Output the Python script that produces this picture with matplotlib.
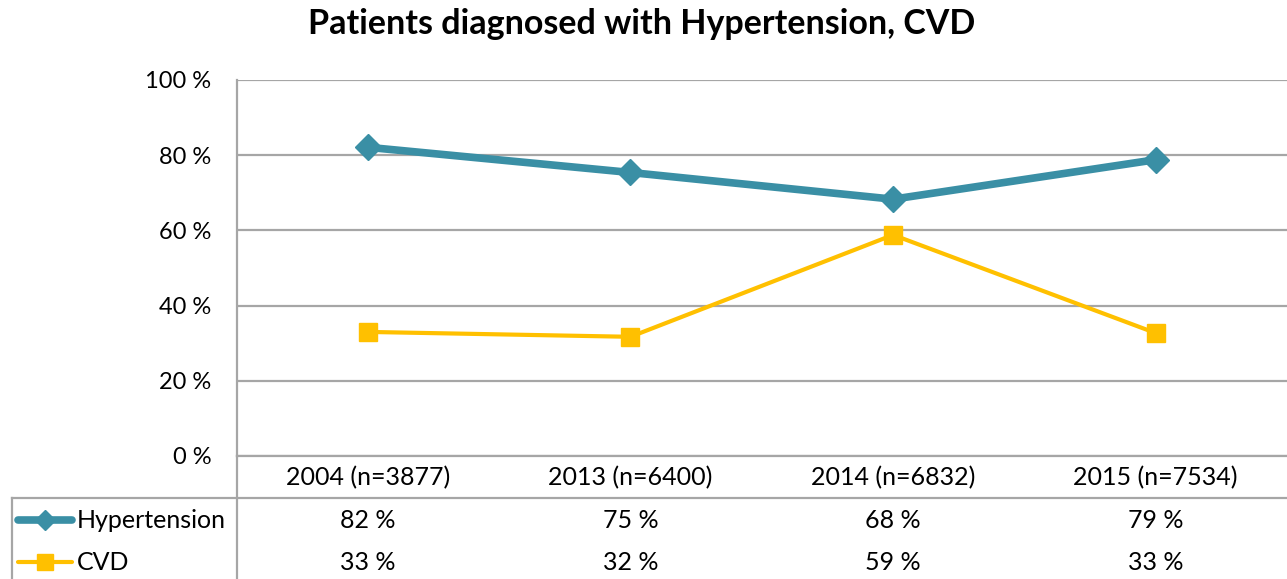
import matplotlib.pyplot as plt
from matplotlib.lines import Line2D
import matplotlib.transforms as mtransforms

plt.rcParams['font.family'] = ['Lato', 'DejaVu Sans']

categories = ['2004 (n=3877)', '2013 (n=6400)', '2014 (n=6832)', '2015 (n=7534)']
hypertension = [82.1, 75.4, 68.3, 78.8]
cvd = [33.0, 31.7, 58.8, 32.7]
hyp_labels = ['82 %', '75 %', '68 %', '79 %']
cvd_labels = ['33 %', '32 %', '59 %', '33 %']
yticks = [0, 20, 40, 60, 80, 100]

teal = '#3a8fa5'
gold = '#ffc000'
grid_c = '#a6a6a6'
fs = 18

W, H = 1287, 579
fig = plt.figure(figsize=(W / 100, H / 100), dpi=100)

def fx(px):
    return px / W

def fy(py):
    return 1 - py / H

ax = fig.add_axes([fx(236.5), fy(456), 1 - fx(236.5), fy(80) - fy(456)])
x = list(range(len(categories)))
ax.plot(x, hypertension, color=teal, lw=5.5, marker='D', ms=13, solid_capstyle='round')
ax.plot(x, cvd, color=gold, lw=3, marker='s', ms=13)
ax.set_xlim(-0.5, len(categories) - 0.5)
ax.set_ylim(0, 100)
ax.set_yticks(yticks)
ax.set_yticklabels(['%d %%' % v for v in yticks], fontsize=17)
ax.tick_params(axis='y', length=0, pad=18)
ax.set_xticks([])
ax.grid(axis='y', color=grid_c, lw=1.6)
ax.set_axisbelow(True)
for s in ['top', 'right', 'bottom']:
    ax.spines[s].set_visible(False)
ax.spines['left'].set_color(grid_c)
ax.spines['left'].set_linewidth(1.6)

fig.suptitle('Patients diagnosed with Hypertension, CVD', fontsize=24.5,
             fontweight='bold', x=fx(642), y=fy(24), va='center')

# data table under the axis
trans = mtransforms.blended_transform_factory(ax.transData, fig.transFigure)
lines = [
    ([fx(236.5), 1], [fy(456), fy(456)]),
    ([fx(12), 1], [fy(498), fy(498)]),
    ([fx(236.5), fx(236.5)], [fy(456), 0]),
    ([fx(12), fx(12)], [fy(498), 0]),
]
for lx, ly in lines:
    fig.add_artist(Line2D(lx, ly, color=grid_c, lw=1.6, transform=fig.transFigure))

for i, c in enumerate(categories):
    fig.text(i, fy(478), c, transform=trans, ha='center', va='center', fontsize=fs)
    fig.text(i, fy(520), hyp_labels[i], transform=trans, ha='center', va='center', fontsize=fs)
    fig.text(i, fy(562), cvd_labels[i], transform=trans, ha='center', va='center', fontsize=fs)

# legend keys inside the table
fig.add_artist(Line2D([fx(18), fx(72)], [fy(520), fy(520)], color=teal, lw=5.5,
                      solid_capstyle='round', transform=fig.transFigure))
fig.add_artist(Line2D([fx(45)], [fy(520)], color=teal, marker='D', ms=10, ls='none',
                      transform=fig.transFigure))
fig.add_artist(Line2D([fx(18), fx(72)], [fy(562), fy(562)], color=gold, lw=3,
                      solid_capstyle='round', transform=fig.transFigure))
fig.add_artist(Line2D([fx(45)], [fy(562)], color=gold, marker='s', ms=11, ls='none',
                      transform=fig.transFigure))
fig.text(fx(77), fy(520), 'Hypertension', ha='left', va='center', fontsize=fs)
fig.text(fx(77), fy(562), 'CVD', ha='left', va='center', fontsize=fs)

fig.savefig('out.png', dpi=100)
